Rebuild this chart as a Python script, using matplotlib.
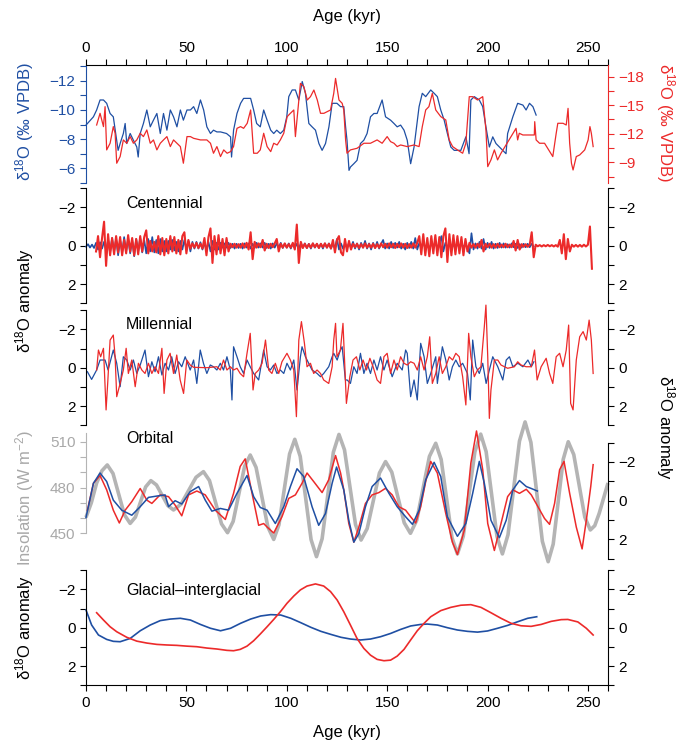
import numpy as np
import matplotlib
matplotlib.use('Agg')
import matplotlib.pyplot as plt
from matplotlib.ticker import MultipleLocator, FixedLocator

plt.rcParams['font.family'] = ['Liberation Sans', 'DejaVu Sans']
plt.rcParams['font.size'] = 11
plt.rcParams['mathtext.fontset'] = 'custom'
plt.rcParams['mathtext.rm'] = 'Liberation Sans'
plt.rcParams['mathtext.it'] = 'Liberation Sans:italic'
plt.rcParams['axes.linewidth'] = 0.8

BLUE = '#1f4fa3'
RED = '#ec2a2a'
GREY = '#b4b4b4'

# ---- raw d18O records (kyr, permil VPDB) ----
raw_blue_age = [0, 3.7, 5.3, 7, 8.7, 10.3, 12, 13.6, 15.3, 16, 17, 18.6, 19.5, 20.3, 22, 23.6, 25.3, 26, 27, 28.6,
                30.3, 32, 33.6, 35.3, 37, 38.6, 40.3, 42, 43.6, 45.3, 47, 48.5, 50.3, 52, 53.6, 55.2, 57, 58.6, 60.2, 62,
                63.5, 65.2, 67, 70, 72, 72.5, 73.5, 75.2, 77, 78.5, 82, 83.5, 85, 86.8, 88.5, 90.2, 92, 93.5, 95, 96.8,
                98.5, 100, 101, 102.7, 104.3, 106, 107.7, 109.3, 111, 112.6, 114.3, 116, 117.6, 119.3, 121, 122.6, 125,
                126.8, 128.4, 129.3, 130, 131, 131.7, 133.4, 135, 136.7, 138.4, 140, 141.7, 143.4, 145, 147.5, 149.2,
                151.7, 153.4, 155, 156.7, 158.4, 160, 161.7, 163.4, 165.9, 167.5, 169.2, 171.7, 173.4, 175, 176.7, 178.4,
                180, 181.7, 183.4, 186.7, 189.2, 190.8, 191.7, 193.4, 195.9, 197.6, 199.2, 200.9, 202.6, 204.2, 205.9,
                207.6, 209.2, 210, 212.6, 215, 217.6, 219.2, 220.9, 222.6, 224.2]
raw_blue_val = [-8.96, -9.53, -10.0, -10.69, -10.69, -10.46, -9.76, -9.53, -7.92, -7.22, -7.69, -8.38, -9.07, -7.69,
                -8.38, -7.92, -7.45, -6.76, -8.38, -9.07, -10.0, -8.84, -9.30, -9.76, -8.38, -9.76, -8.61, -10.0, -9.53,
                -8.84, -10.0, -9.30, -10.0, -10.0, -10.23, -9.76, -10.69, -10.0, -8.84, -8.38, -8.61, -8.49, -8.49,
                -8.38, -8.15, -6.76, -8.61, -9.76, -10.46, -10.80, -10.80, -10.0, -9.07, -8.84, -10.0, -9.30, -8.61,
                -8.38, -8.61, -8.38, -8.61, -9.53, -10.92, -11.38, -11.38, -10.69, -11.96, -11.15, -9.07, -8.84, -8.61,
                -7.69, -7.22, -7.69, -8.84, -10.46, -10.46, -10.23, -10.23, -8.84, -7.92, -5.84, -6.07, -6.30, -6.53,
                -7.69, -7.92, -8.38, -9.53, -9.76, -9.76, -10.69, -9.53, -9.30, -9.07, -8.84, -8.96, -8.61, -7.92,
                -6.30, -7.45, -10.23, -11.15, -10.92, -11.38, -11.15, -10.92, -10.0, -9.30, -8.38, -7.45, -7.22, -7.22,
                -8.15, -6.99, -10.69, -10.92, -10.69, -10.23, -8.84, -7.45, -8.15, -7.69, -7.45, -7.22, -6.99, -8.38,
                -9.53, -10.46, -10.34, -10.0, -10.46, -10.23, -9.65]

raw_red_age = [5.3, 7, 8.7, 9.5, 10.3, 12, 13.6, 14.5, 15.3, 17, 18.6, 20.3, 22, 23.6, 25.3, 27, 28.6, 30.3, 32, 33.6,
               35.3, 37, 38.6, 40.3, 42, 43.6, 45.3, 47, 48.5, 50.3, 52, 53.6, 57, 60.2, 62, 63.5, 65.2, 67, 68.6, 70.3,
               72, 73.5, 75.2, 77, 78.5, 80.3, 82, 83.5, 85.3, 86.8, 88.5, 90.2, 92, 93.5, 95.2, 96.8, 98.5, 100.2,
               101.8, 103.5, 104.3, 106, 106.8, 108.5, 110.2, 111.8, 113.5, 115.2, 116.8, 118.5, 121.8, 123.4, 124.3,
               126, 127.6, 128.4, 129.3, 130, 131.7, 135, 138.4, 141.7, 145, 147.5, 150, 151.7, 153.4, 155, 156.7, 160,
               163.4, 165.9, 167.5, 169.2, 170.8, 172.5, 174.2, 176.7, 179.2, 180.9, 182.6, 185, 187.6, 189.2, 190.9,
               192.6, 195, 197.6, 199.2, 200.1, 201.7, 203.4, 205, 206.7, 214.2, 215, 215.8, 217.6, 223.3, 223.5,
               224.2, 225.9, 228.4, 232.5, 234.2, 235, 237.6, 239.2, 240.1, 240.9, 241.8, 242.6, 244.2, 245.9, 248.4,
               250.1, 251, 251.7, 252.6]
raw_red_val = [-12.92, -14.15, -12.75, -14.85, -10.30, -11.0, -12.75, -12.05, -8.90, -9.60, -11.35, -11.0, -11.70,
               -11.0, -11.35, -12.05, -11.70, -12.40, -11.0, -11.35, -10.30, -11.0, -11.35, -11.70, -10.65, -11.35,
               -11.0, -10.65, -8.90, -11.70, -11.70, -11.52, -11.35, -11.35, -11.0, -9.95, -10.65, -9.60, -10.30,
               -9.95, -10.12, -10.65, -12.57, -12.75, -12.57, -13.10, -14.50, -9.95, -9.95, -10.30, -12.05, -10.65,
               -10.12, -11.0, -10.82, -11.35, -12.05, -13.80, -14.15, -14.50, -11.70, -15.55, -17.30, -16.95, -15.55,
               -15.90, -16.60, -15.55, -14.15, -14.15, -14.50, -16.25, -17.82, -15.55, -15.20, -14.50, -11.35, -9.95,
               -10.30, -10.47, -11.0, -11.0, -11.35, -11.0, -11.70, -11.17, -11.0, -10.65, -10.82, -10.65, -10.82,
               -10.65, -12.75, -14.50, -14.85, -16.25, -14.50, -13.80, -13.45, -11.35, -10.65, -10.30, -9.95, -11.0,
               -15.90, -15.90, -15.55, -15.90, -12.40, -8.54, -9.25, -10.30, -9.25, -9.95, -12.57, -11.35, -12.05,
               -11.87, -11.87, -13.27, -11.35, -11.0, -11.0, -9.60, -12.05, -13.10, -13.10, -12.92, -14.67, -11.0,
               -8.90, -8.19, -9.60, -9.77, -10.30, -11.35, -12.75, -12.05, -10.65]

# ---- centennial band (1-kyr steps) ----
cent_blue_start = 0
cent_blue = [0.05, -0.08, 0.1, -0.06, 0.12, -0.15, 0.2, -0.18, 0.15, -0.2,
             0.25, -0.3, 0.35, -0.4, 0.3, -0.35, 0.5, -0.3, 0.35, -0.45,
             0.3, -0.35, 0.4, -0.3, 0.55, -0.35, 0.3, -0.4, 0.35, -0.3,
             0.4, -0.35, 0.3, -0.45, 0.35, -0.3, 0.4, -0.35, 0.3, -0.25,
             0.3, -0.25, 0.2, -0.3, 0.25, -0.2, 0.3, -0.25, 0.2, -0.3,
             0.2, -0.25, 0.3, -0.2, 0.15, -0.2, 0.15, -0.18, 0.2, -0.15,
             0.25, -0.2, 0.3, -0.25, 0.2, -0.15, 0.2, -0.15, 0.1, -0.12,
             0.1, -0.15, 0.12, -0.1, 0.15, -0.1, 0.12, -0.1, 0.15, -0.12,
             0.1, -0.12, 0.15, -0.1, 0.12, -0.15, 0.1, -0.12, 0.1, -0.15,
             0.12, -0.1, 0.15, -0.12, 0.1, -0.12, 0.1, -0.15, 0.12, -0.1,
             0.1, -0.12, 0.15, -0.1, 0.12, -0.1, 0.15, -0.12, 0.1, -0.12,
             0.12, -0.1, 0.15, -0.12, 0.1, -0.1, 0.12, -0.1, 0.15, -0.12,
             0.1, -0.12, 0.15, -0.1, 0.12, -0.35, 0.2, -0.12, 0.15, -0.1,
             0.12, -0.15, 0.1, -0.2, 0.15, -0.12, 0.2, -0.15, 0.1, -0.25,
             0.15, -0.12, 0.2, -0.15, 0.12, -0.2, 0.15, -0.1, -0.3, 0.15,
             -0.12, 0.15, -0.2, 0.12, -0.15, 0.1, -0.2, 0.15, -0.1, 0.2,
             -0.15, 0.12, -0.2, 0.15, -0.4, 0.2, -0.15, 0.12, -0.2, 0.15,
             -0.12, 0.2, -0.15, 0.1, -0.2, 0.15, -0.12, -0.5, 0.3, -0.15,
             0.12, -0.2, 0.15, -0.1, 0.2, -0.15, 0.12, -0.15, 0.1, -0.12,
             0.15, 0.4, -0.65, 0.2, -0.12, 0.15, -0.2, 0.15, -0.35, 0.2,
             -0.15, 0.12, -0.2, 0.15, -0.1, 0.12, -0.15, 0.1, -0.12, 0.1,
             -0.08, 0.1, -0.12, 0.08, -0.1, 0.12, -0.08, 0.1, -0.1, 0.08,
             -0.1, 0.08, -0.1, 0.05]
cent_red_start = 5
cent_red = [0.3, -0.5, 0.6, -0.4, -1.25, 1.05, -0.6, 0.5, -0.4, 0.45,
            -0.5, 0.35, -0.45, 0.5, -0.3, 0.4, -0.55, 0.3, -0.4, 0.5,
            -0.35, 0.45, -0.5, 0.3, -0.45, -0.8, 0.4, -0.25, 0.3, -0.2,
            0.35, -0.5, 0.45, -0.4, 0.5, -0.35, 0.4, -0.5, 0.3, -0.45,
            0.4, -0.3, 0.45, -0.5, -0.7, 0.4, -0.3, 0.15, -0.12, 0.1,
            -0.15, 0.12, -0.1, 0.15, -0.4, 0.5, -0.45, -0.9, 0.9, -0.5,
            0.45, -0.55, 0.4, -0.35, 0.5, -0.4, 0.3, -0.1, 0.08, -0.1,
            0.1, -0.08, 0.1, -0.12, 0.1, -0.15, 0.2, -0.7, 0.7, -0.2,
            0.1, -0.12, 0.08, -0.3, 0.25, -0.1, 0.12, -0.1, 0.08, -0.12,
            -0.35, 0.3, -0.1, 0.1, -0.12, 0.1, -0.08, 0.1, -0.15, 0.2,
            -1.1, 0.9, -0.2, 0.12, -0.1, 0.12, -0.08, 0.1, -0.12, 0.08,
            -0.1, 0.12, -0.1, 0.08, -0.12, 0.1, -0.1, 0.15, -0.3, 0.35,
            -0.3, -0.5, 0.35, 0.5, -0.35, 0.3, -0.25, 0.2, -0.1, 0.08,
            -0.1, 0.12, -0.08, 0.1, -0.12, 0.1, -0.08, 0.1, -0.1, 0.12,
            -0.08, 0.1, -0.12, 0.08, -0.1, 0.1, -0.12, 0.08, -0.1, 0.12,
            -0.1, 0.08, -0.12, 0.1, -0.1, 0.12, -0.08, 0.1, -0.12, 0.1,
            -0.15, -0.5, 0.45, -0.6, 0.5, -0.4, 0.55, -0.5, 0.4, -0.55,
            0.5, -0.45, 0.6, -0.5, -0.9, 0.85, -0.6, 0.5, -0.55, 0.45,
            -0.5, 0.4, -0.45, 0.5, -0.35, 0.3, -0.15, 0.1, -0.08, 0.1,
            -0.1, 0.08, -0.3, 0.3, -0.1, 0.08, -0.1, 0.1, -0.08, 0.1,
            -0.1, 0.08, -0.06, 0.08, -0.1, 0.08, -0.06, 0.08, -0.25, 0.25,
            -0.3, 0.2, -0.08, 0.06, -0.08, 0.06, -0.05, -0.7, 0.6, -0.05,
            0.03, -0.03, 0.04, -0.03, 0.03, -0.04, 0.03, -0.03, 0.04, -0.03,
            0.05, -0.3, 0.4, -0.6, 0.7, -0.35, 0.3, -0.05, 0.05, -0.04,
            0.05, -0.04, 0.05, -0.05, 0.04, -0.05, -1.0, 1.2]

# ---- millennial band ----
mill_blue_age = [0.7, 2.8, 5.3, 7, 9.5, 11, 13.6, 15.3, 17, 18.6, 20.3, 22, 23.6, 25.3, 27, 29.4, 31.1, 32.8, 34.4,
                 36.1, 37.8, 39.4, 41.1, 42.7, 44.4, 46.1, 47.7, 49.4, 51.9, 53.6, 55.2, 56.9, 58.5, 60.2, 61.9, 63.5,
                 65.2, 66.9, 68.5, 70.2, 71.9, 72.7, 73.5, 75.2, 76.8, 78.5, 80.2, 81.8, 83.5, 86, 88.5, 90.2, 91.8,
                 93.5, 95.1, 96.8, 98.5, 100.1, 101.8, 103.5, 105.1, 106.8, 107.6, 109.3, 110.9, 112.6, 115.1, 116.8,
                 118.4, 120.9, 122.6, 123.4, 125.1, 126.7, 127.6, 129.2, 130.1, 131.7, 133.4, 135, 136.7, 138.4, 140,
                 141.7, 143.4, 145, 146.7, 148.4, 150, 152.5, 155, 157.5, 159.2, 160, 161.7, 163.4, 165, 166.7, 168.4,
                 170, 171.7, 174.2, 175, 177.5, 179.2, 180.9, 182.5, 184.2, 185.9, 187.6, 190, 191.4, 192.6, 194.2,
                 195.9, 197.6, 199.3, 200.9, 202.6, 205.1, 207.6, 209.3, 210.9, 212.6, 215.1, 217.6, 220.1, 221.8, 223.1]
mill_blue_val = [0.21, 0.61, 0.12, -0.40, -0.40, 0.12, -0.92, -0.23, 0.99, -0.57, -0.40, 0.12, -0.40, 0.30, -0.14,
                 -0.92, 0.47, -0.31, 0.21, -0.57, 0.38, -0.23, 0.12, -0.57, 0.30, -0.31, -0.05, -0.57, 0.12, -0.40,
                 0.82, -0.92, -0.23, 0.30, -0.14, -0.05, 0.12, -0.23, 0.12, -0.57, 0.12, 1.68, -1.09, -0.57, -0.05,
                 0.30, -0.40, -0.05, 0.30, 0.64, -0.92, -0.05, 0.12, -0.14, 0.30, 0.12, 0.30, -0.23, 0.12, -0.40, 1.16,
                 -0.57, -1.09, -0.57, -0.23, 0.12, 0.30, 0.47, 0.30, -0.05, -0.57, -0.75, -0.40, -0.92, -1.09, 0.64,
                 0.64, 0.82, -0.05, 0.30, -0.75, 0.30, -0.23, 0.30, -0.40, 0.12, -0.57, 0.12, -0.40, 0.47, -0.23, 0.12,
                 -0.92, -0.75, 1.51, 0.64, 1.68, -1.27, -0.57, 0.82, 0.30, -0.57, 0.82, -1.09, -0.40, 0.64, -0.05,
                 -0.40, -0.05, -0.23, 0.30, 1.68, -1.44, -0.05, 0.30, -0.23, 0.82, 0.12, -0.57, -0.05, 0.64, -0.40,
                 -0.57, -0.05, -0.23, -0.05, -0.40, -0.05, -0.31]
mill_red_age = [5.3, 6.2, 7.3, 8.7, 10, 10.8, 12, 13.6, 14.5, 15.3, 17, 18.6, 20, 21.1, 22.8, 24.5, 26.1, 27.8, 29.4,
                31.1, 32.8, 34.4, 36.1, 37.8, 38.9, 40.3, 41.9, 43.6, 45.2, 46.9, 48.6, 50.2, 51.9, 53.6, 60.2, 65.2,
                66.9, 68.5, 70.2, 71.9, 73.5, 75.2, 76.8, 78.5, 80.2, 81.8, 83.2, 84.3, 86, 87.7, 89.4, 91, 92.6, 94.3,
                96, 97.6, 100.1, 101.8, 103.5, 104.8, 106, 107.3, 108.8, 110.1, 111.8, 113.4, 115.1, 116.8, 118.4,
                120.9, 122.6, 123.4, 124.3, 125, 126.7, 128, 129.7, 131.4, 133, 134.7, 136.4, 138, 139.7, 141.4, 143,
                145, 146.7, 148.4, 150, 151.7, 153.4, 155, 156.7, 158.4, 160, 161.7, 163.4, 165, 166.7, 168.4, 170,
                171.2, 172.5, 174.2, 175.9, 177.5, 179.2, 180.9, 182.6, 184.2, 185.9, 187.6, 189.2, 190.6, 191.7,
                193.4, 195, 196.7, 198.4, 199.2, 200.1, 200.9, 201.7, 203.4, 205.1, 206.7, 210, 213.4, 215, 216.7,
                219.2, 221.8, 223.4, 224.7, 226.7, 229.2, 230.9, 232.5, 234.2, 235.9, 237.6, 239.2, 240.4, 241.4,
                242.6, 244.2, 245.9, 247.6, 249.2, 250.6, 251.7, 252.6]
mill_red_val = [0.12, -0.92, -0.57, -1.01, 2.20, 0.82, -1.44, -1.70, -0.57, 1.51, 0.82, 0.12, -1.01, 0.30, -0.40,
                0.99, -0.23, 0.12, 0.30, -0.23, 0.30, -0.05, 0.30, -1.01, 1.34, -0.40, -0.75, 0.30, -0.66, 0.64, 1.34,
                -0.40, -0.14, -0.02, 0.0, -0.05, 0.12, -0.40, 0.12, -0.05, 0.12, 0.03, 0.30, 0.47, -0.75, -1.79, 1.16,
                0.30, 0.12, -0.23, -1.44, 0.12, 0.30, -0.23, 0.30, -0.31, -0.75, -0.40, 0.12, 2.55, -1.44, -2.40,
                -1.27, -0.05, -0.23, 0.30, 0.12, 0.30, 0.64, 0.82, -0.05, -1.44, -2.31, -0.57, -0.92, -2.31, 1.86,
                0.47, -0.40, -0.57, 0.12, -0.40, 0.12, -0.49, -0.05, 0.64, 0.82, -0.57, -0.75, 0.30, -0.40, 0.12,
                -0.57, -0.23, -0.14, -0.31, -0.23, 0.12, -0.57, 0.12, -0.57, -1.61, 0.82, 0.30, -0.57, 0.30, -0.05,
                -0.57, -0.40, -0.75, -0.57, 0.47, 1.94, -1.79, -0.57, 0.47, 0.12, -0.05, -2.14, -3.26, -0.57, 2.64,
                1.16, -0.40, -0.40, -0.14, 0.03, -0.05, -0.31, -0.14, -0.05, -0.05, -0.92, 0.64, -0.05, -0.49, 0.30,
                0.82, -0.57, -0.75, -0.05, -0.92, -2.22, 1.86, 2.20, -0.40, -1.61, -1.88, -1.44, -2.48, -1.44, 0.30]

# ---- orbital band and summer insolation ----
insol_age = [0, 2.65, 5.3, 7.95, 10.6, 13.45, 16.3, 19.15, 22, 24.6, 27.15, 29.7, 32.3, 35.1, 37.95, 40.8, 43.6, 47.3,
             51.05, 54.8, 58.5, 61.5, 64.5, 67.5, 70.5, 73.3, 76.15, 79.0, 81.8, 84.7, 87.65, 90.6, 93.5, 96.1, 98.75,
             101.4, 104, 106.7, 109.4, 112.1, 114.8, 117.6, 120.4, 123.2, 126, 128.75, 131.5, 134.25, 137, 140.05,
             143.1, 146.15, 149.2, 152.3, 155.4, 158.5, 161.6, 164.75, 167.9, 171.05, 174.2, 176.9, 179.6, 182.3, 185,
             187.9, 190.8, 193.7, 196.6, 199.3, 202, 204.7, 207.4, 210.2, 213.05, 215.9, 218.7, 221.6, 224.45, 227.3,
             230.2, 232.7, 235.2, 237.7, 240.2, 242.95, 245.7, 248.45, 251.2, 253.4, 255.6, 257.8, 260]
insol_wm2 = [460.5, 470, 483, 491, 494.8, 489.2, 475.6, 462.1, 456.5, 460.6, 470.5, 480.4, 484.5, 481.7, 474.9, 468.1,
             465.3, 469.0, 477.9, 486.7, 490.4, 484.6, 470.4, 456.2, 450.4, 457.8, 475.9, 493.9, 501.3, 493.2, 473.7,
             454.1, 446, 455.6, 478.8, 502.0, 511.6, 500.4, 473.2, 445.9, 434.7, 446.4, 474.8, 503.1, 514.8, 504.7,
             480.2, 455.7, 445.6, 453.1, 471.3, 489.5, 497, 490.1, 473.5, 456.9, 450, 458.6, 479.5, 500.4, 509, 498.4,
             472.8, 447.1, 436.5, 448.0, 475.8, 503.5, 515, 503.5, 475.8, 448.0, 436.5, 449.1, 479.8, 510.4, 523,
             509.6, 477.2, 444.8, 431.4, 442.9, 470.7, 498.5, 510, 501.6, 481.1, 460.6, 452.2, 455, 463, 473, 483]

orb_blue_age = [0, 3.7, 7, 10.3, 13.6, 17.8, 22.8, 27, 31.1, 35.3, 39.4, 41.1, 44.4, 47.7, 51.9, 56.1, 59.4, 62.7, 66.9,
                71, 75.2, 80.2, 83.5, 86.8, 90.2, 94.3, 98.5, 101.8, 105.1, 108.4, 112.6, 115.9, 119.3, 122.6, 124.8,
                128.4, 130.9, 133.4, 135.9, 139.2, 142.5, 146.7, 150.9, 155, 159.2, 162.6, 165.9, 169.2, 173.4, 176.7,
                180, 185, 189.2, 192.6, 195.9, 198.4, 201.7, 205.9, 209.3, 212.6, 215.9, 219.3, 221.8, 224.8]
orb_blue_val = [0.87, -0.90, -1.43, -0.99, -0.03, 0.49, 0.75, 0.31, -0.17, -0.24, -0.30, 0.31, 0.0, 0.17, -0.47, -0.73,
                -0.03, 0.54, 0.40, 0.49, -0.38, -1.30, -0.21, 0.35, 0.49, 1.18, 0.31, -0.73, -1.65, -1.25, 0.31, 1.27,
                0.66, -0.90, -1.74, -0.56, 1.01, 2.14, 1.70, 0.31, -0.73, -1.17, -0.38, 0.31, 0.83, 1.22, 0.49, -1.08,
                -1.98, -1.25, 0.83, 1.84, 1.18, -0.38, -2.03, -0.90, 1.01, 1.91, 1.01, -0.56, -1.04, -0.73, -0.63,
                -0.50]
orb_red_age = [0.7, 3.7, 7, 10.3, 13.6, 16.6, 19.5, 22.8, 27, 30.3, 32.8, 36.9, 41.1, 44.4, 47.7, 51.1, 55.2, 59.4,
               64.4, 69.4, 73.5, 76.8, 79.3, 82.7, 86, 88.5, 90.2, 93.5, 97.6, 101, 104.3, 107.6, 110.1, 113.4, 117.6,
               120.9, 124.3, 126.8, 128.4, 130.9, 133.4, 135.9, 139.2, 142.5, 145.9, 149.2, 152.5, 155.8, 159.2, 161.7,
               164.2, 166.7, 169.2, 171.7, 175, 179.2, 182.5, 185, 188.4, 191.7, 194.5, 197.6, 200.1, 203.4, 206.7,
               210, 212.6, 215.9, 219.3, 221.8, 225.1, 228.4, 230.9, 233.4, 235.9, 238.1, 240.9, 244.2, 247.1, 249.2,
               251.4, 252.6]
orb_red_val = [0.49, -0.90, -1.30, -0.56, 0.49, 1.15, 0.49, 0.05, -0.63, -0.03, 0.14, -0.30, -0.21, 0.23, 0.78, -0.30,
               -0.50, -0.30, 0.49, 0.97, -0.38, -1.77, -2.16, -0.38, 1.27, 1.18, 1.36, 1.67, 0.83, -0.12, -0.30, -0.90,
               -1.43, -0.99, -0.42, -1.08, -2.33, -1.43, -0.56, 1.18, 2.14, 1.36, 0.14, -0.30, -0.42, -0.64, -0.30,
               0.31, 0.49, 0.83, 1.15, 0.31, -0.99, -2.03, -1.43, 0.66, 2.14, 2.78, 1.53, -1.95, -3.60, -1.60, 1.18,
               2.57, 1.18, -0.21, -0.56, -0.38, -0.59, -0.30, 0.31, 0.92, 1.22, 0.14, -1.60, -2.03, -0.38, 1.36, 2.49,
               1.01, -0.73, -1.86]

# ---- glacial-interglacial band ----
gi_blue_age = [0, 2.8, 6.2, 10.3, 13.6, 17, 22, 27, 32, 37, 42, 47, 52, 57, 62, 67, 72, 77, 82, 87, 92, 97, 102, 107,
               112, 117, 122, 127, 131.7, 136.7, 141.7, 146.7, 151.7, 156.7, 161.7, 166.7, 170, 175, 180, 185, 190,
               195, 200, 205, 210, 215, 220, 224.5]
gi_blue_val = [-0.92, -0.14, 0.38, 0.61, 0.71, 0.73, 0.56, 0.16, -0.14, -0.37, -0.45, -0.49, -0.40, -0.17, 0.03, 0.16,
               0.03, -0.23, -0.45, -0.61, -0.68, -0.66, -0.49, -0.26, -0.02, 0.19, 0.35, 0.50, 0.59, 0.64, 0.59, 0.47,
               0.30, 0.09, -0.09, -0.17, -0.19, -0.14, 0.0, 0.12, 0.19, 0.23, 0.17, 0.03, -0.12, -0.31, -0.49, -0.57]
gi_red_age = [5.3, 8.7, 12, 15.3, 20.3, 25.3, 30.3, 35.3, 40.3, 45.2, 50.2, 55.2, 60.2, 65.2, 70.2, 73.5, 76.8, 80.2,
              83.5, 86.8, 90.2, 93.5, 96.8, 100.1, 103.5, 106.8, 110.1, 114.3, 118.4, 121.8, 125.1, 128.4, 131.7, 135,
              138.4, 141.7, 145, 148.4, 151.7, 155, 158.4, 161.7, 165, 168.4, 171.7, 176.7, 181.7, 186.7, 191.7,
              196.7, 201.7, 206.7, 211.7, 216.7, 221.7, 226.7, 231.7, 236.7, 240, 245, 249.2, 252.6]
gi_red_val = [-0.78, -0.40, -0.05, 0.21, 0.50, 0.70, 0.80, 0.87, 0.90, 0.92, 0.96, 0.99, 1.06, 1.11, 1.18, 1.20, 1.13,
              0.96, 0.68, 0.33, -0.05, -0.43, -0.83, -1.27, -1.65, -1.97, -2.17, -2.28, -2.17, -1.88, -1.44, -0.83,
              -0.14, 0.56, 1.08, 1.43, 1.65, 1.72, 1.69, 1.48, 1.13, 0.64, 0.16, -0.23, -0.57, -0.89, -1.06, -1.17,
              -1.20, -1.06, -0.78, -0.49, -0.23, -0.10, -0.07, -0.17, -0.33, -0.42, -0.43, -0.30, 0.03, 0.38]

# ---------------------------------------------------------------
W, H = 686, 745
X0, X1 = 86, 608


def frame(top, bottom):
    return [X0 / W, 1 - bottom / H, (X1 - X0) / W, (bottom - top) / H]


def bare(ax):
    ax.set_xlim(0, 260)
    ax.patch.set_visible(False)
    for s in ax.spines.values():
        s.set_visible(False)
    ax.tick_params(axis='x', which='both', bottom=False, top=False, labelbottom=False, labeltop=False)
    ax.tick_params(axis='y', which='both', left=False, right=False, labelleft=False, labelright=False)
    ax.tick_params(which='both', direction='out', length=4, width=0.8, pad=3.5)


def anomaly_axis(ax, left=True, right=True):
    ax.set_ylim(3, -3)
    ax.yaxis.set_major_locator(FixedLocator([-2, 0, 2]))
    ax.yaxis.set_minor_locator(FixedLocator([-3, -1, 1, 3]))
    ax.spines['left'].set_visible(left)
    ax.spines['right'].set_visible(right)
    ax.tick_params(axis='y', which='both', left=left, right=right, labelleft=left, labelright=right)


def x_axis(ax, where):
    ax.spines[where].set_visible(True)
    ax.xaxis.set_major_locator(MultipleLocator(50))
    ax.xaxis.set_minor_locator(MultipleLocator(10))
    if where == 'top':
        ax.tick_params(axis='x', which='both', top=True, labeltop=True)
    else:
        ax.tick_params(axis='x', which='both', bottom=True, labelbottom=True)


fig = plt.figure(figsize=(W / 100, H / 100), dpi=100)

# panel 1: raw records
ax1 = fig.add_axes(frame(65, 183))
bare(ax1)
x_axis(ax1, 'top')
ax1.set_ylim(-4.97, -13.1)
ax1.yaxis.set_major_locator(FixedLocator([-12, -10, -8, -6]))
ax1.yaxis.set_minor_locator(FixedLocator([-13, -11, -9, -7, -5]))
ax1.spines['left'].set_visible(True)
ax1.spines['left'].set_color(BLUE)
ax1.tick_params(axis='y', which='both', left=True, labelleft=True, colors=BLUE)
ax1.plot(raw_blue_age, raw_blue_val, color=BLUE, lw=0.9, clip_on=False)

ax1r = fig.add_axes(frame(65, 183))
bare(ax1r)
ax1r.set_ylim(-6.82, -19.23)
ax1r.yaxis.set_major_locator(FixedLocator([-18, -15, -12, -9]))
ax1r.yaxis.set_minor_locator(FixedLocator([-16.5, -13.5, -10.5, -7.5]))
ax1r.spines['right'].set_visible(True)
ax1r.spines['right'].set_color(RED)
ax1r.tick_params(axis='y', which='both', right=True, labelright=True, colors=RED)
ax1r.plot(raw_red_age, raw_red_val, color=RED, lw=0.9, clip_on=False)

# panel 2: centennial
ax2 = fig.add_axes(frame(188.1, 303.3))
bare(ax2)
anomaly_axis(ax2)
ax2.plot(cent_blue_start + np.arange(len(cent_blue)), cent_blue, color=BLUE, lw=1.2, clip_on=False)
ax2.plot(cent_red_start + np.arange(len(cent_red)), cent_red, color=RED, lw=1.5, clip_on=False)

# panel 3: millennial
ax3 = fig.add_axes(frame(310.1, 425.3))
bare(ax3)
anomaly_axis(ax3)
ax3.plot(mill_blue_age, mill_blue_val, color=BLUE, lw=0.9, clip_on=False)
ax3.plot(mill_red_age, mill_red_val, color=RED, lw=0.9, clip_on=False)

# panel 4: orbital + insolation (insolation axis frame reaches a bit higher)
ax4i = fig.add_axes(frame(430, 558.8))
bare(ax4i)
ax4i.set_ylim(433.3, 517.7)
ax4i.spines['left'].set_visible(True)
ax4i.spines['left'].set_color(GREY)
ax4i.spines['left'].set_bounds(450, 516)
ax4i.yaxis.set_major_locator(FixedLocator([450, 480, 510]))
ax4i.yaxis.set_minor_locator(FixedLocator([460, 470, 490, 500]))
ax4i.tick_params(axis='y', which='both', left=True, labelleft=True, colors=GREY)
ax4i.tick_params(axis='y', which='both', labelcolor='#a8a8a8')
ax4i.plot(insol_age, insol_wm2, color=GREY, lw=2.6, clip_on=False, solid_capstyle='butt')

ax4 = fig.add_axes(frame(442.6, 558.8))
bare(ax4)
anomaly_axis(ax4, left=False, right=True)
ax4.plot(orb_red_age, orb_red_val, color=RED, lw=1.1, clip_on=False)
ax4.plot(orb_blue_age, orb_blue_val, color=BLUE, lw=1.1, clip_on=False)

# panel 5: glacial-interglacial
ax5 = fig.add_axes(frame(570.1, 685.3))
bare(ax5)
anomaly_axis(ax5)
x_axis(ax5, 'bottom')
ax5.plot(gi_blue_age, gi_blue_val, color=BLUE, lw=1.2, clip_on=False)
ax5.plot(gi_red_age, gi_red_val, color=RED, lw=1.2, clip_on=False)


def ftxt(x, y, s, **kw):
    fig.text(x / W, 1 - y / H, s, ha=kw.pop('ha', 'center'), va=kw.pop('va', 'center'), **kw)


d18 = '\u03b4$^{18}$O'
ftxt(347, 17, 'Age (kyr)', fontsize=12)
ftxt(347, 733, 'Age (kyr)', fontsize=12)
ftxt(25, 122, d18 + ' (‰ VPDB)', rotation=90, color=BLUE, fontsize=12)
ftxt(665, 122, d18 + ' (‰ VPDB)', rotation=270, color=RED, fontsize=12)
ftxt(25, 300, d18 + ' anomaly', rotation=90, fontsize=12)
ftxt(665, 428, d18 + ' anomaly', rotation=270, fontsize=12)
ftxt(25, 498, 'Insolation (W m$^{-2}$)', rotation=90, color='#a8a8a8', fontsize=12)
ftxt(25, 627, d18 + ' anomaly', rotation=90, fontsize=12)

ftxt(126, 204, 'Centennial', ha='left', fontsize=11.5)
ftxt(126, 325, 'Millennial', ha='left', fontsize=11.5)
ftxt(126, 438.5, 'Orbital', ha='left', fontsize=11.5)
ftxt(126, 590, 'Glacial\u2013interglacial', ha='left', fontsize=11.5)

fig.savefig('out.png', dpi=100)
